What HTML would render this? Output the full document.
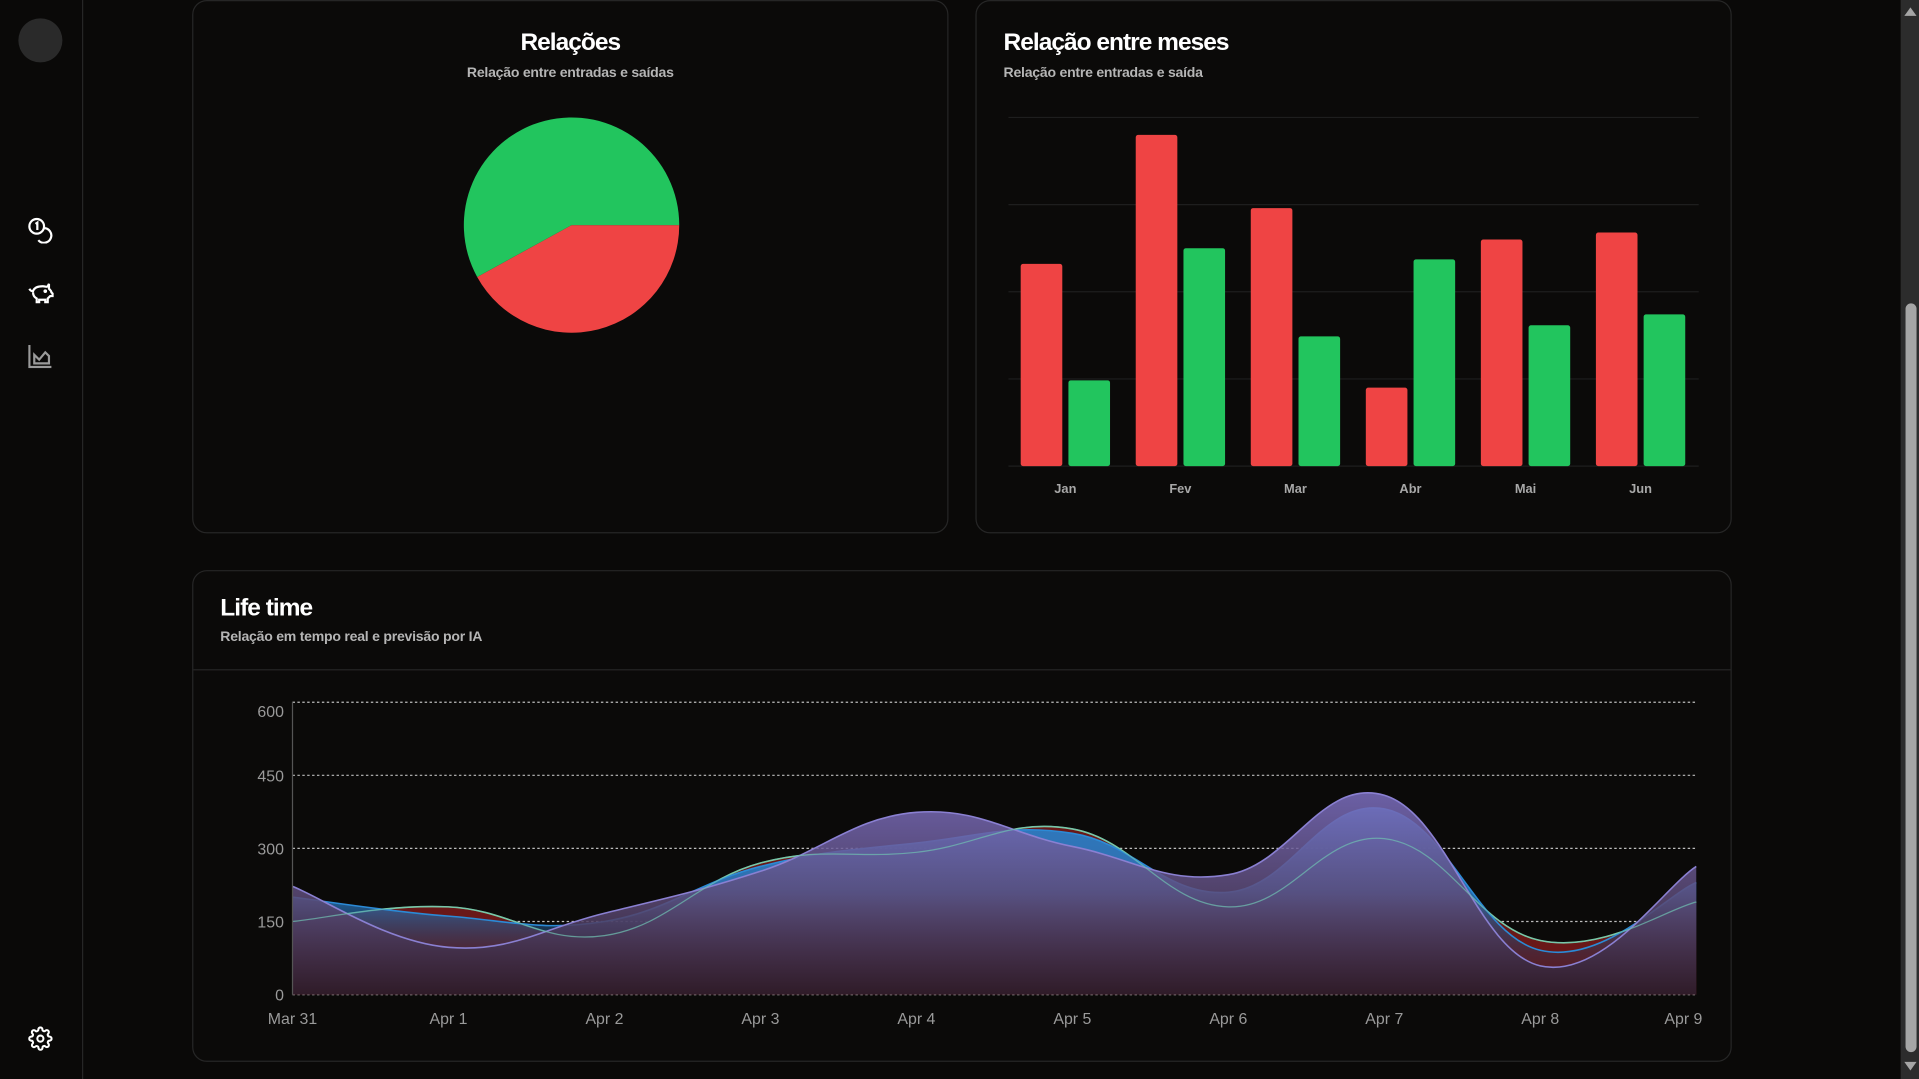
<!DOCTYPE html>
<html><head><meta charset="utf-8">
<style>
html,body{margin:0;padding:0;background:#0a0908;overflow:hidden;width:1919px;height:1079px}
#wrap{position:absolute;left:0;top:0;width:1568px;height:882px;transform-origin:0 0;transform:scale(1.22385,1.22336);font-family:"Liberation Sans",sans-serif;color:#fff}
.side{position:absolute;left:0;top:0;width:67px;height:882px;border-right:1px solid #262626;background:#0a0908}
.card{position:absolute;background:#0b0a09;border:1px solid #262626;border-radius:12px;box-sizing:border-box}
.title{position:absolute;font-weight:bold;font-size:20px;letter-spacing:-0.8px;color:#fff}
.sub{position:absolute;font-size:11.5px;color:#b5b5b5;font-weight:bold;letter-spacing:-0.2px}
svg text{font-family:"Liberation Sans",sans-serif}
.scroll{position:absolute;left:1553px;top:0;width:15px;height:882px;background:#2c2c2c}
</style></head><body>
<div id="wrap">
  <div class="side">
    <div style="position:absolute;left:15px;top:15px;width:36px;height:36px;border-radius:50%;background:#2a2a2a"></div>
    <svg style="position:absolute;left:22px;top:177px" width="22" height="22" viewBox="0 0 22 22" fill="none" stroke="#fff" stroke-width="1.8"><circle cx="8" cy="8" r="6"/><path d="M7 6l1.5-1v6"/><path d="M13.5 9.5a6 6 0 1 1-4.2 9.8"/></svg>
    <svg style="position:absolute;left:22px;top:229px" width="22" height="20" viewBox="0 0 22 20" fill="none" stroke="#fff" stroke-width="1.8"><path d="M2 7c1 2 2 2 3 2 1-3 4-4 8-4 2 0 3 1 4 0l1-2v4c1 1 2 2 2 3l1 1v2h-2l-2 2v3h-2v-2h-5v2H8v-3c-2-1-3-3-3-5"/><circle cx="15" cy="9" r="0.6" fill="#fff"/></svg>
    <svg style="position:absolute;left:23px;top:282px" width="20" height="19" viewBox="0 0 20 19" fill="none" stroke="#9a9a9a" stroke-width="1.8"><path d="M1 0v18h18"/><path d="M5 15V8l4 4 5-6 3 3v6z"/></svg>
    <svg style="position:absolute;left:23px;top:839px" width="20" height="20" viewBox="0 0 24 24" fill="none" stroke="#fff" stroke-width="2"><circle cx="12" cy="12" r="3"/><path d="M19.4 15a1.65 1.65 0 0 0 .33 1.82l.06.06a2 2 0 1 1-2.830 2.83l-.06-.06a1.65 1.65 0 0 0-1.82-.33 1.65 1.65 0 0 0-1 1.51V21a2 2 0 1 1-4 0v-.09A1.65 1.65 0 0 0 9 19.4a1.65 1.65 0 0 0-1.82.33l-.06.06a2 2 0 1 1-2.83-2.830l.06-.06A1.65 1.65 0 0 0 4.6 15a1.65 1.65 0 0 0-1.51-1H3a2 2 0 1 1 0-4h.09A1.65 1.65 0 0 0 4.6 9a1.65 1.65 0 0 0-.33-1.82l-.06-.06a2 2 0 1 1 2.83-2.83l.06.06A1.65 1.65 0 0 0 9 4.6a1.65 1.65 0 0 0 1-1.51V3a2 2 0 1 1 4 0v.09a1.65 1.65 0 0 0 1 1.51 1.65 1.65 0 0 0 1.82-.33l.06-.06a2 2 0 1 1 2.83 2.83l-.06.06A1.65 1.65 0 0 0 19.4 9a1.65 1.65 0 0 0 1.51 1H21a2 2 0 1 1 0 4h-.09a1.65 1.65 0 0 0-1.51 1z"/></svg>
  </div>

  <div class="card" style="left:157px;top:0;width:618px;height:436px">
    <div class="title" style="left:0;width:616px;text-align:center;top:23px">Relações</div>
    <div class="sub" style="left:0;width:616px;text-align:center;top:53px">Relação entre entradas e saídas</div>
    <svg id="pie" style="position:absolute;left:0;top:0" width="616" height="434"></svg>
  </div>

  <div class="card" style="left:797px;top:0;width:618px;height:436px">
    <div class="title" style="left:22px;top:23px">Relação entre meses</div>
    <div class="sub" style="left:22px;top:53px">Relação entre entradas e saída</div>
    <svg id="bars" style="position:absolute;left:-1px;top:-1px" width="618" height="436"></svg>
  </div>

  <div class="card" style="left:157px;top:466px;width:1258px;height:402px">
    <div class="title" style="left:22px;top:19px">Life time</div>
    <div class="sub" style="left:22px;top:48px">Relação em tempo real e previsão por IA</div>
    <div style="position:absolute;left:0;right:0;top:80px;height:1px;background:#262626"></div>
  </div>
  <svg id="area" style="position:absolute;left:0;top:0" width="1553" height="882"></svg>

  <div class="scroll">
    <div style="position:absolute;left:3px;top:6px;width:0;height:0;border-left:5px solid transparent;border-right:5px solid transparent;border-bottom:7px solid #a5a5a5"></div>
    <div style="position:absolute;left:4px;top:248px;width:9px;height:612px;border-radius:5px;background:#a5a5a5"></div>
    <div style="position:absolute;left:3px;top:868px;width:0;height:0;border-left:5px solid transparent;border-right:5px solid transparent;border-top:7px solid #a5a5a5"></div>
  </div>
</div>
<script>
const NS="http://www.w3.org/2000/svg";
function mk(parent,tag,attrs){const e=document.createElementNS(NS,tag);for(const k in attrs)e.setAttribute(k,attrs[k]);parent.appendChild(e);return e;}

// ---- Pie data ----
const pieLabels=["Saídas","Entradas"];
const pieValues=[42,58];
const pieColors=["#ef4444","#22c55e"];
// ---- Bar data ----
const barMonths=["Jan","Fev","Mar","Abr","Mai","Jun"];
const barOut=[58,95,74,22.5,65,67];
const barIn=[24.6,62.5,37.2,59.3,40.4,43.5];
const barMax=100;
// ---- Area data ----
const areaDates=["Mar 31","Apr 1","Apr 2","Apr 3","Apr 4","Apr 5","Apr 6","Apr 7","Apr 8","Apr 9"];
const areaPurple=[222,97,167,253,374,304,246,409,59,263];
const areaBlue=[200,161,150,263,311,331,210,381,91,230];
const areaGreen=[150,180,121,270,292,340,180,320,111,190];
const areaTicks=[0,150,300,450,600];

// Pie
(function(){
  const svg=document.getElementById('pie');
  const cx=309,cy=183,r=88;
  const total=pieValues.reduce((a,b)=>a+b,0);
  let a=0;
  pieValues.forEach((v,i)=>{
    const a2=a+v/total*2*Math.PI;
    const x1=cx+r*Math.cos(a),y1=cy+r*Math.sin(a),x2=cx+r*Math.cos(a2),y2=cy+r*Math.sin(a2);
    const large=(a2-a)>Math.PI?1:0;
    const p=mk(svg,'path',{d:`M${cx},${cy}L${x1},${y1}A${r},${r} 0 ${large} 1 ${x2},${y2}Z`,fill:pieColors[i]});
    
    
    a=a2;
  });
})();

// Bars
(function(){
  const svg=document.getElementById('bars');
  const x0=27,x1=591,yTop=96,yBot=381;
  const y=v=>yBot-(v/barMax)*(yBot-yTop);
  for(let i=0;i<=4;i++){
    const g=mk(svg,'line',{x1:x0,x2:x1,y1:y(i*barMax/4),y2:y(i*barMax/4),stroke:'#1e1e1e','stroke-width':1});
    
    
  }
  const gw=(x1-x0)/barMonths.length, bw=34;
  barMonths.forEach((m,i)=>{
    const gx=x0+i*gw;
    const r1=mk(svg,'rect',{x:gx+10,y:y(barOut[i]),width:bw,height:yBot-y(barOut[i]),rx:2,fill:'#ef4444'});
    
    
    const r2=mk(svg,'rect',{x:gx+10+bw+5,y:y(barIn[i]),width:bw,height:yBot-y(barIn[i]),rx:2,fill:'#22c55e'});
    
    
    const t=mk(svg,'text',{x:gx+10+bw+2.5,y:403,'text-anchor':'middle','font-size':10.5,'font-weight':'bold',fill:'#a8a8a8'});
    t.textContent=m;
    
    
  });
})();

// Area
(function(){
  const svg=document.getElementById('area');
  const X0=239,X1=1386,Y0=813,Y1=574,vmax=600;
  const x=i=>X0+i*(X1-X0)/(areaDates.length-1);
  const y=v=>Y0-v/vmax*(Y0-Y1);
  const defs=mk(svg,'defs',{});
  function grad(id,stops){
    const lg=mk(defs,'linearGradient',{id:id,x1:0,x2:0,gradientUnits:'userSpaceOnUse',y1:y(420),y2:Y0});
    stops.forEach(s=>mk(lg,'stop',{offset:s[0],'stop-color':s[1],'stop-opacity':s[2]}));
  }
  grad('pg',[[0,'rgb(125,112,195)',0.85],[0.55,'rgb(90,72,115)',0.85],[1,'rgb(42,28,42)',0.9]]);
  grad('bg',[[0,'rgb(45,130,205)',0.95],[0.5,'rgb(40,120,190)',0.9],[0.8,'rgb(30,60,100)',0.35],[1,'rgb(20,30,50)',0.1]]);
  areaTicks.forEach(t=>{
    const l=mk(svg,'line',{x1:X0,x2:X1,y1:y(t),y2:y(t),stroke:'#bdbdbd','stroke-width':1,'stroke-dasharray':'2,2'});
    
    
  });
  function path(vals){
    const pts=vals.map((v,i)=>[x(i),y(v)]);
    let d=`M${pts[0][0]},${pts[0][1]}`;
    for(let i=0;i<pts.length-1;i++){
      const p0=pts[i-1]||pts[i],p1=pts[i],p2=pts[i+1],p3=pts[i+2]||p2;
      const t=0.2;
      const c1=[p1[0]+(p2[0]-p0[0])*t,p1[1]+(p2[1]-p0[1])*t];
      const c2=[p2[0]-(p3[0]-p1[0])*t,p2[1]-(p3[1]-p1[1])*t];
      d+=`C${c1[0]},${c1[1]} ${c2[0]},${c2[1]} ${p2[0]},${p2[1]}`;
    }
    return d;
  }
  function area(vals,fill,stroke,name){
    const d=path(vals);
    const a=mk(svg,'path',{d:d+`L${X1},${Y0}L${X0},${Y0}Z`,fill:fill});
    
    
    const l=mk(svg,'path',{d:d,fill:'none',stroke:stroke,'stroke-width':1.3});
    
    
  }
  area(areaGreen,'rgb(105,24,24)','#86d3a0','forecast-series');
  area(areaBlue,'url(#bg)','#2b8ad6','realtime-series');
  area(areaPurple,'url(#pg)','#8a80d2','total-series');
  const gl=mk(svg,'path',{d:path(areaGreen),fill:'none',stroke:'#6fc0b0','stroke-width':1,'stroke-opacity':0.7});
  
  
  const ax=mk(svg,'line',{x1:X0,x2:X0,y1:Y1,y2:Y0,stroke:'#555','stroke-width':1});
  
  
  areaTicks.forEach((t,i)=>{
    const top=i===areaTicks.length-1;
    const tx=mk(svg,'text',{x:232,y:y(t)+(top?12:5),'text-anchor':'end','font-size':13,fill:'#9a9a9a'});
    tx.textContent=t;
    
    
  });
  areaDates.forEach((dt,i)=>{
    const last=i===areaDates.length-1;
    const tx=mk(svg,'text',{x:last?X1+5:x(i),y:837,'text-anchor':last?'end':'middle','font-size':13,fill:'#9a9a9a'});
    tx.textContent=dt;
    
    
  });
})();
</script>
</body></html>
